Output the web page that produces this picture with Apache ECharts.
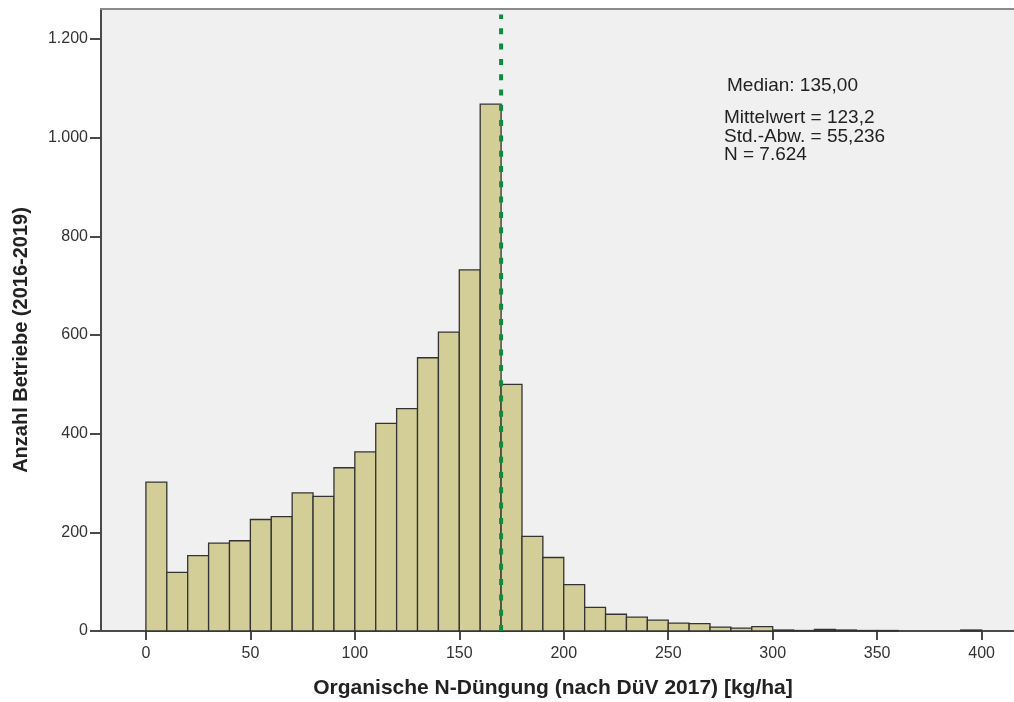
<!DOCTYPE html>
<html>
<head>
<meta charset="utf-8">
<title>Organische N-Düngung – Histogramm</title>
<script src="https://cdn.jsdelivr.net/npm/echarts@6/dist/echarts.min.js"></script>
<style>
  html, body { margin: 0; padding: 0; background: #ffffff; }
  #chart { width: 1014px; height: 702px; }
</style>
</head>
<body>
<div id="chart"></div>
<script>
// Histogram classes (lower edge, kg N/ha) and number of farms per class
const binStarts = [0, 10, 20, 30, 40, 50, 60, 70, 80, 90,
                   100, 110, 120, 130, 140, 150, 160, 170, 180, 190,
                   200, 210, 220, 230, 240, 250, 260, 270, 280, 290,
                   300, 310, 320, 330, 340, 350, 360, 370, 380, 390];
const counts = [302, 119, 153, 178, 183, 226, 232, 280, 273, 331,
                363, 421, 451, 554, 606, 732, 1068, 500, 192, 149,
                94, 48, 34, 28, 22, 16, 15, 8, 6, 9,
                2, 1, 3, 2, 1, 1, 0, 0, 0, 2];
const binWidth = 10;

// Reference line: 170 kg N/ha
const limitValue = 170;

// Axis ticks
const xTicks = [0, 50, 100, 150, 200, 250, 300, 350, 400];
const yTicks = [0, 200, 400, 600, 800, 1000, 1200];

// Statistics box
const statsMedian = 'Median: 135,00';
const statsLines = ['Mittelwert = 123,2', 'Std.-Abw. = 55,236', 'N = 7.624'];

const xTitle = 'Organische N-Düngung (nach DüV 2017) [kg/ha]';
const yTitle = 'Anzahl Betriebe (2016-2019)';

const FONT = '"Liberation Sans", Arial, sans-serif';

const histData = [];
binStarts.forEach((s, i) => {
  if (counts[i] > 0) histData.push([s, s + binWidth, counts[i]]);
});

function fmtThousands(v) {
  return String(v).replace(/\B(?=(\d{3})+(?!\d))/g, '.');
}

const chart = echarts.init(document.getElementById('chart'), null, { renderer: 'canvas' });

const option = {
  backgroundColor: '#ffffff',
  animation: false,
  grid: {
    left: 101, top: 9, right: -2, bottom: 71,
    show: true, backgroundColor: '#f0f0f0', borderWidth: 0
  },
  xAxis: [{
    type: 'value',
    position: 'bottom',
    min: -21.5, max: 415.5,
    splitLine: { show: false },
    axisLine: { show: true, onZero: false, lineStyle: { color: '#4a4a4a', width: 2 } },
    axisTick: { show: true, length: 9, customValues: xTicks, lineStyle: { color: '#4a4a4a', width: 2 } },
    axisLabel: {
      customValues: xTicks, margin: 15, fontSize: 16, color: '#333333', fontFamily: FONT
    }
  }, {
    type: 'value',
    position: 'top',
    min: -21.5, max: 415.5,
    splitLine: { show: false },
    axisLine: { show: true, onZero: false, lineStyle: { color: '#8a8a8a', width: 2 } },
    axisTick: { show: false },
    axisLabel: { show: false }
  }],
  yAxis: {
    type: 'value',
    min: 0, max: 1261,
    splitLine: { show: false },
    axisLine: { show: true, onZero: false, lineStyle: { color: '#4a4a4a', width: 2 } },
    axisTick: { show: true, length: 11, customValues: yTicks, lineStyle: { color: '#4a4a4a', width: 2 } },
    axisLabel: {
      customValues: yTicks, margin: 13, fontSize: 16, color: '#333333', fontFamily: FONT,
      formatter: v => fmtThousands(v)
    }
  },
  series: [{
    type: 'custom',
    name: 'Betriebe',
    xAxisIndex: 0,
    data: histData,
    encode: { x: [0, 1], y: 2 },
    renderItem: function (params, api) {
      const p0 = api.coord([api.value(0), api.value(2)]);
      const p1 = api.coord([api.value(1), 0]);
      return {
        type: 'rect',
        shape: { x: p0[0], y: p0[1], width: p1[0] - p0[0], height: p1[1] - p0[1] },
        style: { fill: '#d3ce97', stroke: '#333333', lineWidth: 1.3 }
      };
    },
    z: 2
  }, {
    type: 'line',
    name: 'Grenze',
    xAxisIndex: 0,
    data: [[limitValue, 0], [limitValue, 1250]],
    symbol: 'none',
    lineStyle: { color: '#0e8c3e', width: 4, type: [6, 9.3] },
    z: 5,
    silent: true
  }],
  graphic: [
    {
      type: 'text', left: 727, top: 76,
      style: { text: statsMedian, font: '19px ' + FONT, fill: '#222222' }
    },
    {
      type: 'text', left: 724, top: 108,
      style: {
        text: statsLines.join('\n'), font: '19px ' + FONT, fill: '#222222', lineHeight: 18.8
      }
    },
    {
      type: 'text', x: 553, y: 688,
      style: {
        text: xTitle, font: 'bold 21px ' + FONT, fill: '#222222',
        align: 'center', verticalAlign: 'middle'
      }
    },
    {
      type: 'text', x: 21, y: 340, rotation: Math.PI / 2,
      style: {
        text: yTitle, font: 'bold 20px ' + FONT, fill: '#222222',
        align: 'center', verticalAlign: 'middle'
      }
    }
  ]
};

chart.setOption(option);
</script>
</body>
</html>
